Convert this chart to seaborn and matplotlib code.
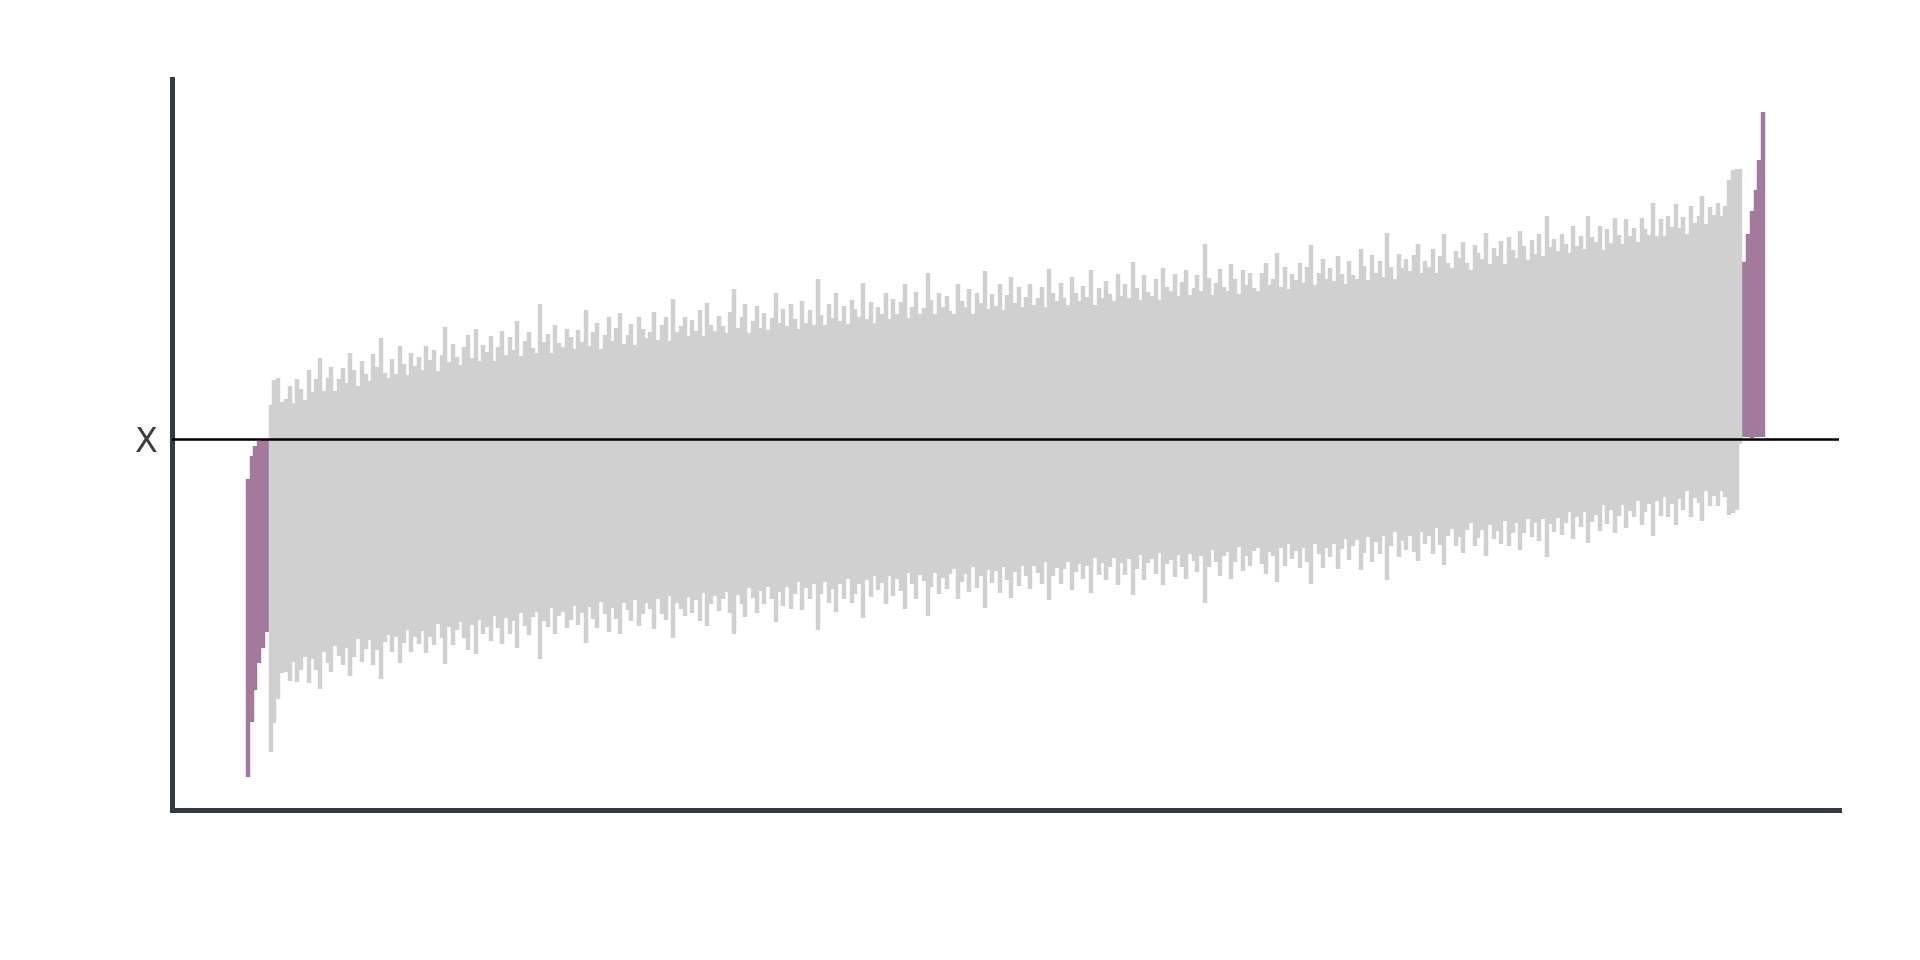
import numpy as np
import pandas as pd
import matplotlib
matplotlib.use("Agg")
import matplotlib.pyplot as plt
import seaborn as sns

# valeur vraie (ligne horizontale) et intervalles
true_value = 0.0
tick_label = "X"

# intervalles qui ratent la valeur par le bas (triés par moyenne)
left_miss_mean = [-1.89, -1.50, -1.29, -1.13, -1.05, -0.97]
left_miss_hw = [1.49, 1.33, 1.22, 1.11, 1.04, 0.96]

# intervalles qui couvrent la valeur (triés par moyenne)
cover_mean = [
    -1.39, -1.12, -0.99, -0.98, -0.96, -0.94, -0.93, -0.91, -0.90, -0.89,
    -0.87, -0.86, -0.85, -0.84, -0.82, -0.81, -0.80, -0.79, -0.78, -0.77,
    -0.76, -0.75, -0.74, -0.73, -0.72, -0.72, -0.71, -0.70, -0.69, -0.69,
    -0.68, -0.67, -0.66, -0.66, -0.65, -0.64, -0.63, -0.63, -0.62, -0.61,
    -0.61, -0.60, -0.59, -0.58, -0.58, -0.57, -0.56, -0.55, -0.55, -0.54,
    -0.54, -0.53, -0.53, -0.52, -0.52, -0.51, -0.50, -0.50, -0.49, -0.49,
    -0.48, -0.48, -0.47, -0.46, -0.46, -0.45, -0.45, -0.44, -0.44, -0.43,
    -0.43, -0.42, -0.42, -0.41, -0.41, -0.40, -0.40, -0.40, -0.39, -0.39,
    -0.38, -0.38, -0.38, -0.37, -0.37, -0.36, -0.36, -0.36, -0.35, -0.35,
    -0.35, -0.34, -0.34, -0.34, -0.33, -0.33, -0.33, -0.32, -0.32, -0.31,
    -0.31, -0.31, -0.30, -0.30, -0.29, -0.29, -0.29, -0.28, -0.28, -0.27,
    -0.27, -0.27, -0.26, -0.26, -0.25, -0.25, -0.25, -0.24, -0.24, -0.23,
    -0.23, -0.23, -0.22, -0.22, -0.21, -0.21, -0.21, -0.20, -0.20, -0.20,
    -0.19, -0.19, -0.19, -0.18, -0.18, -0.18, -0.17, -0.17, -0.17, -0.16,
    -0.16, -0.16, -0.15, -0.15, -0.15, -0.15, -0.14, -0.14, -0.14, -0.13,
    -0.13, -0.13, -0.12, -0.12, -0.12, -0.11, -0.11, -0.10, -0.10, -0.10,
    -0.09, -0.09, -0.09, -0.08, -0.08, -0.07, -0.07, -0.07, -0.06, -0.06,
    -0.06, -0.05, -0.05, -0.05, -0.04, -0.04, -0.04, -0.03, -0.03, -0.03,
    -0.02, -0.02, -0.02, -0.01, -0.01, -0.01, -0.01, 0.00, 0.00, 0.00,
    0.01, 0.01, 0.01, 0.01, 0.02, 0.02, 0.02, 0.03, 0.03, 0.03,
    0.03, 0.04, 0.04, 0.04, 0.05, 0.05, 0.05, 0.05, 0.06, 0.06,
    0.06, 0.06, 0.07, 0.07, 0.07, 0.08, 0.08, 0.08, 0.08, 0.09,
    0.09, 0.09, 0.10, 0.10, 0.10, 0.10, 0.11, 0.11, 0.11, 0.12,
    0.12, 0.12, 0.12, 0.13, 0.13, 0.13, 0.14, 0.14, 0.14, 0.14,
    0.15, 0.15, 0.15, 0.15, 0.16, 0.16, 0.16, 0.17, 0.17, 0.17,
    0.17, 0.18, 0.18, 0.18, 0.19, 0.19, 0.19, 0.19, 0.20, 0.20,
    0.20, 0.21, 0.21, 0.21, 0.22, 0.22, 0.22, 0.23, 0.23, 0.23,
    0.24, 0.24, 0.24, 0.25, 0.25, 0.25, 0.26, 0.26, 0.26, 0.27,
    0.27, 0.27, 0.28, 0.28, 0.29, 0.29, 0.30, 0.30, 0.30, 0.31,
    0.31, 0.32, 0.32, 0.33, 0.33, 0.33, 0.34, 0.34, 0.35, 0.35,
    0.36, 0.36, 0.37, 0.37, 0.37, 0.38, 0.38, 0.39, 0.39, 0.40,
    0.40, 0.41, 0.41, 0.42, 0.42, 0.43, 0.43, 0.44, 0.44, 0.45,
    0.45, 0.45, 0.46, 0.46, 0.47, 0.47, 0.48, 0.48, 0.49, 0.49,
    0.50, 0.50, 0.51, 0.51, 0.52, 0.52, 0.53, 0.54, 0.54, 0.55,
    0.55, 0.56, 0.57, 0.57, 0.58, 0.58, 0.59, 0.60, 0.60, 0.61,
    0.61, 0.62, 0.63, 0.63, 0.64, 0.64, 0.65, 0.66, 0.66, 0.67,
    0.68, 0.68, 0.69, 0.70, 0.70, 0.71, 0.72, 0.73, 0.73, 0.74,
    0.75, 0.76, 0.76, 0.77, 0.78, 0.79, 0.80, 0.81, 0.82, 0.83,
    0.84, 0.85, 0.86, 0.88, 0.92, 0.98, 1.00, 1.33,
]
cover_hw = [
    1.74, 1.72, 1.61, 1.36, 1.37, 1.48, 1.30, 1.52, 1.41, 1.29, 1.57, 1.34, 1.46, 1.66, 1.31, 1.43, 1.53, 1.28, 1.39, 1.49,
    1.33, 1.62, 1.44, 1.27, 1.51, 1.38, 1.30, 1.56, 1.42, 1.71, 1.35, 1.29, 1.47, 1.32, 1.59, 1.40, 1.28, 1.50, 1.36, 1.44,
    1.31, 1.54, 1.39, 1.48, 1.27, 1.42, 1.69, 1.33, 1.51, 1.37, 1.29, 1.46, 1.58, 1.34, 1.63, 1.30, 1.45, 1.38, 1.53, 1.28,
    1.41, 1.57, 1.32, 1.49, 1.36, 1.64, 1.29, 1.43, 1.52, 1.35, 1.30, 1.78, 1.40, 1.47, 1.28, 1.55, 1.37, 1.33, 1.50, 1.42,
    1.29, 1.48, 1.36, 1.67, 1.31, 1.44, 1.53, 1.27, 1.40, 1.58, 1.34, 1.46, 1.61, 1.30, 1.38, 1.49, 1.28, 1.55, 1.43, 1.33,
    1.39, 1.59, 1.30, 1.45, 1.52, 1.28, 1.70, 1.36, 1.42, 1.50, 1.31, 1.47, 1.35, 1.56, 1.29, 1.62, 1.40, 1.33, 1.48, 1.37,
    1.30, 1.51, 1.73, 1.34, 1.44, 1.57, 1.28, 1.39, 1.54, 1.32, 1.46, 1.29, 1.41, 1.65, 1.35, 1.49, 1.31, 1.53, 1.38, 1.27,
    1.55, 1.33, 1.45, 1.30, 1.76, 1.40, 1.29, 1.50, 1.36, 1.60, 1.32, 1.47, 1.28, 1.52, 1.43, 1.34, 1.68, 1.31, 1.48, 1.27,
    1.42, 1.35, 1.56, 1.29, 1.49, 1.33, 1.45, 1.63, 1.28, 1.39, 1.54, 1.31, 1.37, 1.72, 1.44, 1.30, 1.51, 1.36, 1.47, 1.32,
    1.28, 1.58, 1.41, 1.34, 1.52, 1.27, 1.48, 1.37, 1.69, 1.31, 1.45, 1.33, 1.55, 1.29, 1.43, 1.61, 1.35, 1.50, 1.30, 1.40,
    1.53, 1.31, 1.38, 1.49, 1.28, 1.66, 1.42, 1.34, 1.51, 1.36, 1.29, 1.57, 1.40, 1.32, 1.47, 1.35, 1.62, 1.27, 1.44, 1.33,
    1.50, 1.37, 1.29, 1.56, 1.34, 1.46, 1.31, 1.67, 1.41, 1.28, 1.53, 1.36, 1.32, 1.48, 1.27, 1.59, 1.39, 1.35, 1.52, 1.30,
    1.43, 1.55, 1.30, 1.37, 1.49, 1.33, 1.80, 1.45, 1.28, 1.40, 1.54, 1.35, 1.31, 1.58, 1.42, 1.27, 1.51, 1.36, 1.47, 1.32,
    1.29, 1.46, 1.56, 1.34, 1.39, 1.65, 1.31, 1.50, 1.28, 1.43, 1.36, 1.53, 1.33, 1.48, 1.70, 1.30, 1.41, 1.55, 1.35, 1.45,
    1.32, 1.57, 1.38, 1.28, 1.50, 1.36, 1.31, 1.61, 1.44, 1.29, 1.54, 1.35, 1.47, 1.30, 1.74, 1.40, 1.27, 1.52, 1.37, 1.46,
    1.33, 1.49, 1.59, 1.30, 1.42, 1.35, 1.53, 1.28, 1.45, 1.66, 1.37, 1.31, 1.48, 1.40, 1.56, 1.34, 1.27, 1.51, 1.43, 1.36,
    1.62, 1.31, 1.46, 1.38, 1.52, 1.29, 1.55, 1.42, 1.33, 1.60, 1.44, 1.30, 1.49, 1.35, 1.54, 1.32, 1.71, 1.39, 1.47, 1.34,
    1.51, 1.40, 1.30, 1.57, 1.36, 1.46, 1.32, 1.64, 1.43, 1.37, 1.53, 1.28, 1.48, 1.34, 1.58, 1.41, 1.31, 1.55, 1.38, 1.45,
    1.30, 1.54, 1.42, 1.35, 1.67, 1.33, 1.49, 1.31, 1.51, 1.39, 1.61, 1.36, 1.47, 1.29, 1.56, 1.38, 1.44, 1.63, 1.34, 1.50,
    1.41, 1.52, 1.38, 1.46, 1.68, 1.72, 1.71, 1.38,
]

# intervalles qui ratent la valeur par le haut (triés par moyenne)
right_miss_mean = [0.90, 1.04, 1.15, 1.26, 1.41, 1.65]
right_miss_hw = [0.88, 1.02, 1.14, 1.24, 1.39, 1.63]

GRAY = "#d0d0d0"
PURPLE = "#a47a9c"
SPINE = "#343a48"

means = np.concatenate([left_miss_mean, cover_mean, right_miss_mean])
hws = np.concatenate([left_miss_hw, cover_hw, right_miss_hw])
lower = means - hws
upper = means + hws
covers = (lower <= true_value) & (upper >= true_value)
idx = np.arange(len(means))

df = pd.DataFrame({
    "idx": np.repeat(idx, 2),
    "val": np.column_stack([lower, upper]).ravel(),
    "status": np.repeat(np.where(covers, "covers", "misses"), 2),
})

sns.set_style("white")
fig = plt.figure(figsize=(19.2, 9.6), dpi=100)
ax = fig.add_axes([0.0896, 0.15625, 0.8682, 0.7615])

sns.lineplot(data=df, x="idx", y="val", units="idx", estimator=None,
             hue="status", palette={"covers": GRAY, "misses": PURPLE},
             linewidth=3.2, legend=False, ax=ax, solid_capstyle="butt")
ax.axhline(true_value, color="black", lw=1.8, zorder=3)

ax.set_xticks([])
ax.set_yticks([true_value])
ax.set_yticklabels([tick_label])
ax.set_xlabel("")
ax.set_ylabel("")
ax.tick_params(axis="y", length=0, pad=10, labelsize=24, labelcolor="#3d3d3d")
sns.despine(ax=ax)
for side in ["left", "bottom"]:
    ax.spines[side].set_color(SPINE)
    ax.spines[side].set_linewidth(3.6)

fig.savefig("out.png", dpi=100)
